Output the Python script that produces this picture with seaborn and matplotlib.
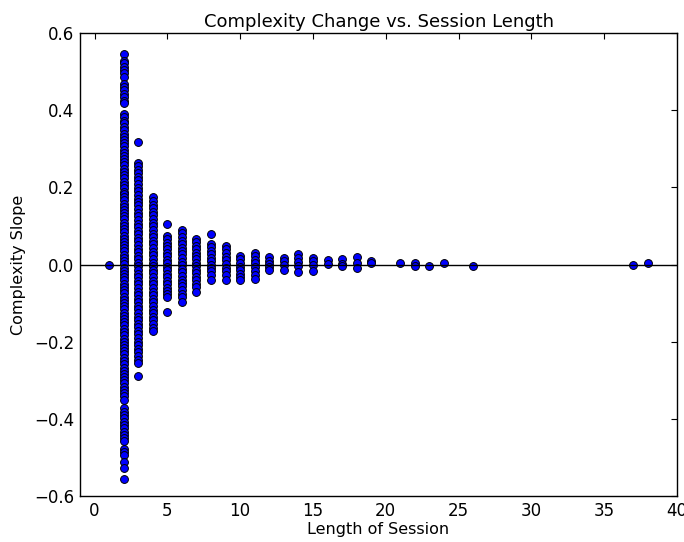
import matplotlib
matplotlib.use("Agg")
import matplotlib.pyplot as plt
import seaborn as sns
import pandas as pd

# Complexity slope per session, grouped by session length
slopes_len1 = [0.0]
slopes_len2 = [0.545, 0.528, 0.521, 0.512, 0.503, 0.497, 0.485, 0.468, 0.459, 0.452,
               0.441, 0.433, 0.425, 0.418, 0.389, 0.381, 0.372, 0.366, 0.357, 0.349,
               0.338, 0.331, 0.322, 0.315, 0.306, 0.297, 0.289, 0.282, 0.273, 0.266,
               0.258, 0.247, 0.239, 0.231, 0.224, 0.215, 0.207, 0.198, 0.189, 0.182,
               0.174, 0.166, 0.157, 0.148, 0.141, 0.133, 0.125, 0.117, 0.108, 0.099,
               0.091, 0.083, 0.075, 0.067, 0.058, 0.050, 0.042, 0.034, 0.025, 0.017,
               0.009, 0.001, -0.008, -0.016, -0.025, -0.033, -0.041, -0.050, -0.058,
               -0.066, -0.075, -0.083, -0.091, -0.100, -0.108, -0.116, -0.125, -0.133,
               -0.142, -0.150, -0.158, -0.167, -0.175, -0.183, -0.192, -0.200, -0.208,
               -0.217, -0.225, -0.233, -0.242, -0.250, -0.258, -0.267, -0.275, -0.283,
               -0.292, -0.300, -0.308, -0.317, -0.325, -0.333, -0.342, -0.350, -0.372,
               -0.381, -0.389, -0.398, -0.407, -0.416, -0.425, -0.433, -0.441, -0.450,
               -0.458, -0.478, -0.487, -0.495, -0.513, -0.527, -0.557]
slopes_len3 = [0.318, 0.264, 0.255, 0.246, 0.236, 0.227, 0.218, 0.208, 0.199, 0.190,
               0.181, 0.171, 0.162, 0.153, 0.143, 0.134, 0.125, 0.116, 0.106, 0.097,
               0.088, 0.078, 0.069, 0.060, 0.051, 0.041, 0.032, 0.023, 0.013, 0.004,
               -0.005, -0.014, -0.024, -0.033, -0.042, -0.051, -0.061, -0.070, -0.079,
               -0.089, -0.098, -0.107, -0.116, -0.126, -0.135, -0.144, -0.154, -0.163,
               -0.172, -0.181, -0.191, -0.200, -0.209, -0.219, -0.228, -0.237, -0.247,
               -0.256, -0.290]
slopes_len4 = [0.174, 0.165, 0.155, 0.146, 0.137, 0.127, 0.118, 0.108, 0.099, 0.090,
               0.080, 0.071, 0.062, 0.052, 0.043, 0.033, 0.024, 0.015, 0.005, -0.004,
               -0.014, -0.023, -0.032, -0.042, -0.051, -0.061, -0.070, -0.079, -0.089,
               -0.098, -0.107, -0.117, -0.126, -0.136, -0.145, -0.154, -0.164, -0.173]
slopes_len5 = [0.105, 0.075, 0.066, 0.057, 0.048, 0.039, 0.030, 0.021, 0.012, 0.003,
               -0.006, -0.015, -0.024, -0.033, -0.042, -0.051, -0.060, -0.068, -0.077,
               -0.085, -0.124]
slopes_len6 = [0.090, 0.081, 0.072, 0.062, 0.053, 0.044, 0.035, 0.026, 0.016, 0.007,
               -0.002, -0.011, -0.020, -0.030, -0.039, -0.048, -0.057, -0.066, -0.076,
               -0.085, -0.098]
slopes_len7 = [0.067, 0.058, 0.049, 0.040, 0.031, 0.022, 0.013, 0.004, -0.005, -0.014,
               -0.023, -0.032, -0.041, -0.050, -0.059, -0.070]
slopes_len8 = [0.078, 0.054, 0.045, 0.036, 0.027, 0.018, 0.009, 0.000, -0.009, -0.018,
               -0.027, -0.040]
slopes_len9 = [0.049, 0.039, 0.030, 0.020, 0.011, 0.002, -0.008, -0.017, -0.027, -0.040]
slopes_len10 = [0.022, 0.013, 0.004, -0.006, -0.015, -0.024, -0.032, -0.040]
slopes_len11 = [0.031, 0.022, 0.012, 0.003, -0.006, -0.016, -0.027, -0.037]
slopes_len12 = [0.020, 0.010, 0.001, -0.007, -0.015]
slopes_len13 = [0.018, 0.008, -0.002, -0.013]
slopes_len14 = [0.028, 0.016, 0.006, -0.004, -0.020]
slopes_len15 = [0.018, 0.008, -0.002, -0.017]
slopes_len16 = [0.012, 0.002]
slopes_len17 = [0.014, 0.001, -0.004]
slopes_len18 = [0.020, 0.004, -0.008]
slopes_len19 = [0.008, 0.003]
slopes_len21 = [0.005]
slopes_len22 = [0.005, -0.003]
slopes_len23 = [-0.003]
slopes_len24 = [0.003]
slopes_len26 = [-0.003]
slopes_len37 = [-0.002]
slopes_len38 = [0.003]

groups = {
    1: slopes_len1, 2: slopes_len2, 3: slopes_len3, 4: slopes_len4, 5: slopes_len5,
    6: slopes_len6, 7: slopes_len7, 8: slopes_len8, 9: slopes_len9, 10: slopes_len10,
    11: slopes_len11, 12: slopes_len12, 13: slopes_len13, 14: slopes_len14,
    15: slopes_len15, 16: slopes_len16, 17: slopes_len17, 18: slopes_len18,
    19: slopes_len19, 21: slopes_len21, 22: slopes_len22, 23: slopes_len23,
    24: slopes_len24, 26: slopes_len26, 37: slopes_len37, 38: slopes_len38,
}

df = pd.DataFrame(
    [(length, s) for length, vals in groups.items() for s in vals],
    columns=["length", "slope"],
)

sns.set_style("white")
plt.rcParams["font.family"] = ["DejaVu Sans"]
plt.rcParams["font.size"] = 12
plt.rcParams["text.color"] = "black"
plt.rcParams["axes.labelcolor"] = "black"

fig = plt.figure(figsize=(6.84, 5.42), dpi=100)
ax = fig.add_axes([80 / 684, 46 / 542, 597 / 684, 463 / 542])

sns.scatterplot(data=df, x="length", y="slope", ax=ax, color="#0000ff",
                edgecolor="black", linewidth=0.7, s=32, zorder=1, legend=False)
ax.axhline(0, color="black", linewidth=1.0, zorder=2)

ax.set_xlim(-1, 40)
ax.set_ylim(-0.6, 0.6)
ax.set_xticks(range(0, 41, 5))
ax.set_yticks([-0.6, -0.4, -0.2, 0.0, 0.2, 0.4, 0.6])
ax.set_yticklabels(["\u22120.6", "\u22120.4", "\u22120.2", "0.0", "0.2", "0.4", "0.6"])
ax.tick_params(direction="in", length=4, width=0.8, top=True, right=True,
               labelsize=12, pad=4, colors="black")
for side in ax.spines.values():
    side.set_color("black")
    side.set_linewidth(1.0)

ax.set_title("Complexity Change vs. Session Length", fontsize=13, pad=4,
             color="black")
ax.set_xlabel("Length of Session", fontsize=11.5, labelpad=2, color="black")
ax.set_ylabel("Complexity Slope", fontsize=11.5, labelpad=6, color="black")

fig.savefig("out.png", dpi=100)
